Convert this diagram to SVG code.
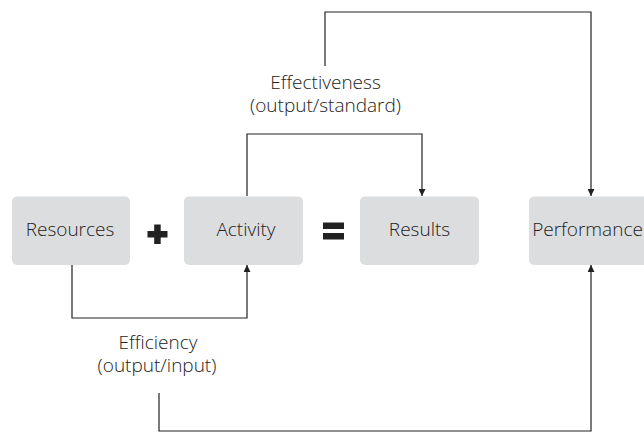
<svg xmlns="http://www.w3.org/2000/svg" width="644" height="435" viewBox="0 0 644 435">
<style>
.box{fill:#dcdddf}
.t{font-family:"Open Sans","Liberation Sans",sans-serif;font-size:19px;font-weight:300;fill:#222;text-anchor:middle}
.c{fill:none;stroke:#222;stroke-width:1.2}
</style>
<defs>
<marker id="ah" viewBox="0 0 10 10" refX="10" refY="5" markerWidth="7" markerHeight="7" orient="auto" markerUnits="userSpaceOnUse">
<path d="M0,0 L10,5 L0,10 z" fill="#222"/>
</marker>
</defs>
<rect width="644" height="435" fill="#fff"/>
<g id="resources"><rect class="box" x="12" y="196.5" width="118" height="68.5" rx="5"/><text class="t" x="70" y="235.5">Resources</text></g>
<g id="activity"><rect class="box" x="184" y="196.5" width="119" height="68.5" rx="5"/><text class="t" x="246" y="235.5">Activity</text></g>
<g id="results"><rect class="box" x="360" y="196.5" width="119" height="68.5" rx="5"/><text class="t" x="419.5" y="235.5">Results</text></g>
<g id="performance"><rect class="box" x="529" y="196.5" width="119" height="68.5" rx="5"/><text class="t" x="587.5" y="235.5">Performance</text></g>
<g id="operators" fill="#222">
<rect x="147.5" y="231" width="20" height="6.5"/><rect x="154.2" y="224.5" width="6.5" height="19.5"/>
<rect x="323" y="222.5" width="21" height="6.5"/><rect x="323" y="233" width="21" height="6.5"/>
</g>
<g id="labels">
<text class="t"><tspan x="325.5" y="89">Effectiveness</tspan><tspan x="325.5" y="112">(output/standard)</tspan></text>
<text class="t"><tspan x="158" y="349">Efficiency</tspan><tspan x="157" y="372">(output/input)</tspan></text>
</g>
<g id="connectors">
<path class="c" d="M325,66 V12 H591 V196" marker-end="url(#ah)"/>
<path class="c" d="M247,196 V134 H422 V196" marker-end="url(#ah)"/>
<path class="c" d="M72,265 V318 H247 V265" marker-end="url(#ah)"/>
<path class="c" d="M159,393 V431 H591 V265" marker-end="url(#ah)"/>
</g>
</svg>
